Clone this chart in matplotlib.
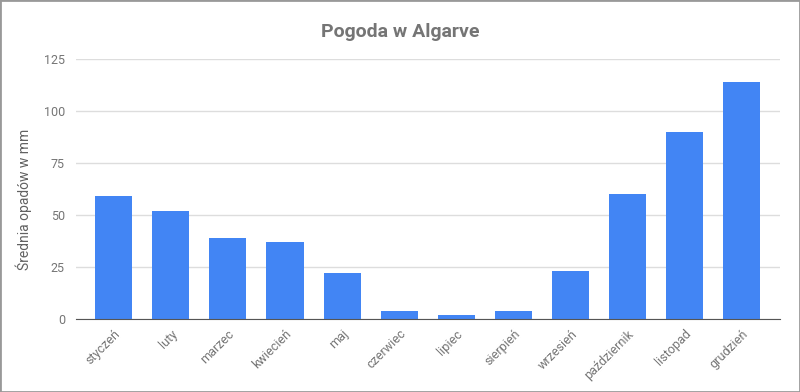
import matplotlib.pyplot as plt
from matplotlib.patches import Rectangle

plt.rcParams['font.family'] = ['Roboto', 'DejaVu Sans']

# dane
miesiace = ["styczeń", "luty", "marzec", "kwiecień", "maj", "czerwiec",
            "lipiec", "sierpień", "wrzesień", "październik", "listopad", "grudzień"]
opady = [59, 52, 39, 37, 22, 4, 2, 4, 23, 60, 90, 114]
y_ticks = [0, 25, 50, 75, 100, 125]

fig = plt.figure(figsize=(8, 3.92), dpi=100)
ax = fig.add_axes([76/800, 1 - 319/392, (780 - 76)/800, (319 - 59)/392])

x = range(len(miesiace))
ax.bar(x, opady, width=0.65, color="#4285f4", zorder=3)

ax.set_ylim(0, 125)
ax.set_xlim(-0.66, 11.67)
ax.set_yticks(y_ticks)
ax.set_xticks(list(x))
ax.set_xticklabels(miesiace, rotation=45, ha="right", rotation_mode="anchor")
ax.tick_params(axis="both", length=0, colors="#757575", labelsize=9)
ax.tick_params(axis="x", pad=6)
ax.tick_params(axis="y", pad=8)

ax.grid(axis="y", color="#dddddd", linewidth=1, zorder=0)
for s in ["top", "right", "left"]:
    ax.spines[s].set_visible(False)
ax.spines["bottom"].set_color("#555555")
ax.spines["bottom"].set_zorder(4)

ax.set_ylabel("Średnia opadów w mm", color="#616161", fontsize=10)
ax.yaxis.set_label_coords(-44/704, 0.46)
fig.text(0.5, 1 - 32/392, "Pogoda w Algarve", ha="center", va="center",
         fontsize=14, fontweight="bold", color="#757575")

# ramka wokół obrazu
fig.patches.append(Rectangle((0, 0), 1, 1, transform=fig.transFigure,
                             fill=False, edgecolor="#999999", linewidth=2))

plt.savefig("out.png", dpi=100)
